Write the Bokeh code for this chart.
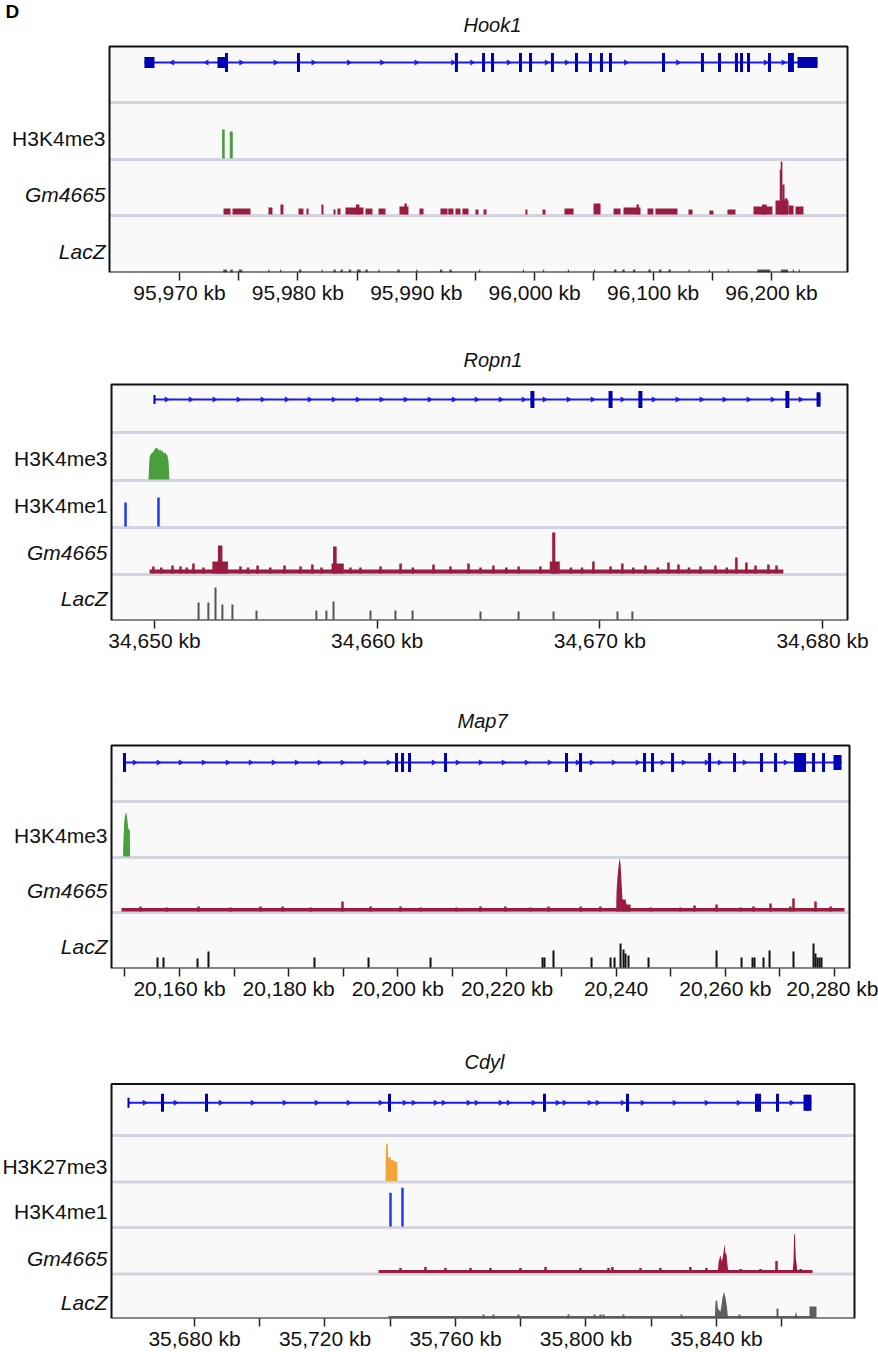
import math
from bokeh.plotting import figure
from bokeh.models import Range1d, FixedTicker
from bokeh.core.properties import value
from bokeh.layouts import column
from bokeh.embed import file_html
from bokeh.resources import INLINE

# ======================= DATA =======================
# ---------- Panel 1 : Hook1 ----------
hook1_view = (95964.09, 96026.42)
hook1_ticks = [95970, 95980, 95990, 96000, 96010, 96020]
hook1_tick_labels = ["95,970 kb", "95,980 kb", "95,990 kb", "96,000 kb", "96,100 kb", "96,200 kb"]
hook1_minor = [95975, 95985, 95995, 96005, 96015]
hook1_tracks = ["", "H3K4me3", "Gm4665", "LacZ"]
hook1_gene = (95967.04, 96023.89)
hook1_exons = [95973.97, 95980.05, 95993.39, 95995.68, 95996.44, 95998.80, 95999.65, 96001.50,
               96003.53, 96004.71, 96005.64, 96006.40, 96010.88, 96014.17, 96015.61, 96017.04,
               96017.47, 96018.06, 96019.83, 96021.52, 96021.77]
hook1_blocks = [(95967.04, 95967.89), (95973.21, 95974.05), (96022.20, 96023.89)]
hook1_arrows_fwd = [95975.2, 95978.1, 95981.3, 95984.3, 95987.1, 95990.0, 95993.1, 95994.7,
                    95997.8, 96001.0, 96002.7, 96007.7, 96012.1, 96019.5, 96021.0]
hook1_arrows_rev = [95969.4, 95972.3]
hook1_h3k4me3 = [(95973.60, 95973.82, 29), (95974.25, 95974.50, 27)]
hook1_gm4665 = [(95973.72, 95974.31, 6), (95974.48, 95976.00, 6), (95977.52, 95977.85, 7),
                (95978.53, 95978.78, 10), (95980.05, 95980.47, 6), (95980.73, 95980.90, 6),
                (95981.99, 95982.16, 10), (95983.01, 95983.18, 5), (95983.34, 95983.60, 6),
                (95984.02, 95985.54, 7), (95984.90, 95985.20, 10), (95985.71, 95986.30, 6),
                (95986.81, 95987.40, 6), (95988.58, 95989.34, 8), (95989.00, 95989.20, 11),
                (95990.27, 95990.61, 6), (95992.04, 95992.64, 6), (95992.70, 95993.14, 6),
                (95993.31, 95993.73, 6), (95993.90, 95994.41, 6), (95995.00, 95995.25, 5),
                (95995.68, 95995.93, 5), (95999.22, 95999.39, 5), (96000.66, 96000.91, 5),
                (96002.52, 96003.28, 6), (96004.97, 96005.56, 11), (96006.66, 96007.25, 6),
                (96007.50, 96008.94, 7), (96008.60, 96008.80, 10), (96009.53, 96010.03, 6),
                (96010.20, 96012.06, 6), (96012.99, 96013.33, 5), (96014.76, 96015.10, 4),
                (96016.28, 96016.96, 5), (96018.48, 96020.08, 8), (96019.20, 96019.60, 10),
                (96020.34, 96021.44, 14), (96020.70, 96020.82, 45), (96020.78, 96020.92, 53),
                (96020.92, 96021.10, 30), (96021.10, 96021.35, 16), (96021.44, 96021.86, 9),
                (96022.03, 96022.70, 8)]
hook1_lacz = [(95973.7, 95974.0, 3), (95974.3, 95974.5, 3), (95975.0, 95975.3, 3), (95977.5, 95977.6, 3),
              (95978.5, 95978.6, 3), (95980.1, 95980.3, 3), (95982.0, 95982.1, 3), (95983.0, 95983.2, 3),
              (95983.6, 95983.8, 3), (95984.3, 95984.5, 3), (95985.0, 95985.3, 3), (95985.7, 95985.9, 3),
              (95986.8, 95986.9, 3), (95988.4, 95988.6, 3), (95990.0, 95990.1, 3), (95992.0, 95992.2, 3),
              (95992.8, 95993.0, 3), (95995.3, 95995.4, 3), (95999.0, 95999.1, 3), (96000.7, 96000.8, 3),
              (96002.8, 96002.9, 3), (96005.0, 96005.1, 3), (96006.7, 96006.9, 3), (96007.4, 96007.6, 3),
              (96008.3, 96008.5, 3), (96009.6, 96009.8, 3), (96010.5, 96010.7, 3), (96011.3, 96011.5, 3),
              (96013.0, 96013.1, 3), (96014.7, 96014.8, 3), (96016.3, 96016.4, 3), (96018.8, 96019.9, 3),
              (96020.8, 96021.4, 3), (96021.8, 96021.9, 3), (96022.3, 96022.4, 3)]

# ---------- Panel 2 : Ropn1 ----------
ropn1_view = (34648.07, 34681.12)
ropn1_ticks = [34650, 34660, 34670, 34680]
ropn1_tick_labels = ["34,650 kb", "34,660 kb", "34,670 kb", "34,680 kb"]
ropn1_tracks = ["", "H3K4me3", "H3K4me1", "Gm4665", "LacZ"]
ropn1_gene = (34650.0, 34679.9)
ropn1_exons = [34666.97, 34670.48, 34671.82, 34678.42]
ropn1_blocks = [(34679.73, 34679.91)]
ropn1_caps = [34650.0]
ropn1_arrows_fwd = [34650.54, 34651.62, 34652.69, 34653.77, 34654.85, 34655.93, 34656.96, 34658.04,
                    34659.12, 34660.19, 34661.27, 34662.35, 34663.43, 34664.46, 34665.54, 34666.57,
                    34667.51, 34668.59, 34669.67, 34671.01, 34672.41, 34673.48, 34674.56, 34675.59,
                    34676.67, 34677.75, 34679.01]
ropn1_h3k4me3_x = [34649.73, 34649.78, 34649.82, 34649.87, 34649.91, 34649.96, 34650.00, 34650.04,
                   34650.09, 34650.13, 34650.18, 34650.22, 34650.27, 34650.31, 34650.36, 34650.40,
                   34650.45, 34650.49, 34650.54, 34650.58, 34650.63, 34650.67]
ropn1_h3k4me3_v = [0, 22, 25, 26, 27, 28, 30, 31, 32, 31, 30, 29, 30, 28, 29, 27, 26, 27, 25, 24, 18, 0]
ropn1_h3k4me1 = [(34648.70, 24), (34650.18, 29)]
ropn1_gm4665_base = (34649.78, 34678.24, 4)
ropn1_gm4665_peaks = [(34652.60, 34653.30, 12), (34652.85, 34653.05, 28), (34657.95, 34658.50, 10),
                      (34658.02, 34658.18, 27), (34667.75, 34668.20, 12), (34667.86, 34668.00, 41)]
ropn1_gm4665_bumps = [(34649.95, 7), (34650.30, 6), (34650.81, 8), (34651.17, 7), (34651.45, 6),
                      (34651.75, 10), (34652.20, 6), (34653.86, 7), (34654.20, 6), (34654.63, 8),
                      (34655.20, 6), (34655.84, 8), (34656.56, 7), (34657.09, 9), (34657.50, 6),
                      (34658.80, 6), (34659.25, 6), (34660.15, 7), (34661.05, 10), (34661.60, 6),
                      (34662.53, 9), (34663.29, 7), (34664.10, 10), (34664.64, 6), (34665.22, 8),
                      (34665.80, 6), (34666.35, 7), (34667.33, 7), (34668.70, 6), (34669.20, 6),
                      (34669.71, 12), (34670.48, 7), (34671.01, 10), (34671.50, 6), (34672.05, 8),
                      (34672.60, 6), (34673.08, 11), (34673.53, 9), (34674.00, 6), (34674.52, 7),
                      (34675.19, 8), (34675.70, 6), (34676.13, 16), (34676.58, 11), (34676.99, 8),
                      (34677.57, 9), (34677.93, 8)]
ropn1_lacz = [(34651.98, 17), (34652.42, 17), (34652.74, 32), (34653.05, 15), (34653.50, 15),
              (34654.58, 9), (34657.27, 9), (34657.72, 9), (34658.04, 18), (34659.70, 9),
              (34660.82, 9), (34661.59, 9), (34664.64, 8), (34666.35, 8), (34667.92, 8),
              (34670.79, 8), (34671.46, 8)]

# ---------- Panel 3 : Map7 ----------
map7_view = (20147.54, 20282.75)
map7_ticks = [20160, 20180, 20200, 20220, 20240, 20260, 20280]
map7_tick_labels = ["20,160 kb", "20,180 kb", "20,200 kb", "20,220 kb", "20,240", "20,260 kb", "20,280 kb"]
map7_minor = [20150, 20170, 20190, 20210, 20230, 20250, 20270]
map7_tracks = ["", "H3K4me3", "Gm4665", "LacZ"]
map7_gene = (20149.92, 20281.29)
map7_exons = [20149.92, 20199.76, 20200.86, 20202.14, 20208.74, 20230.90, 20233.47, 20245.20,
              20246.66, 20250.33, 20257.11, 20261.69, 20266.63, 20269.20, 20272.86, 20273.23,
              20273.59, 20273.96, 20274.51, 20276.16, 20277.99]
map7_blocks = [(20279.82, 20281.29)]
map7_arrows_fwd = [20151.76, 20156.15, 20160.18, 20164.40, 20168.79, 20173.01, 20177.22, 20181.44,
                   20185.65, 20189.86, 20194.08, 20198.29, 20206.54, 20210.93, 20215.15, 20219.36,
                   20223.58, 20227.79, 20232.92, 20235.49, 20239.52, 20243.91, 20248.49, 20252.34,
                   20256.56, 20258.94, 20263.52, 20271.03]
map7_h3k4me3_x = [20149.65, 20149.69, 20149.87, 20150.05, 20150.24, 20150.42, 20150.60, 20150.79,
                  20150.90, 20150.95]
map7_h3k4me3_v = [0, 10, 35, 42, 44, 38, 28, 27, 26, 0]
map7_gm4665_base = (20149.37, 20281.84, 3.5)
map7_gm4665_peak_x = [20240.00, 20240.07, 20240.25, 20240.43, 20240.62, 20240.80, 20240.98,
                      20241.16, 20241.71, 20241.90, 20242.63, 20242.70]
map7_gm4665_peak_v = [0, 20, 35, 45, 53, 48, 30, 12, 12, 7, 7, 0]
map7_gm4665_bumps = [(20152.85, 5), (20157.62, 4), (20163.48, 5), (20169.34, 4), (20174.84, 5),
                     (20178.87, 5), (20184.00, 4), (20189.86, 10), (20195.00, 5), (20200.50, 5),
                     (20204.20, 4), (20210.75, 4), (20215.15, 5), (20219.70, 5), (20224.30, 4),
                     (20227.61, 5), (20233.50, 5), (20237.10, 5), (20246.30, 4), (20251.80, 4),
                     (20254.36, 6), (20258.39, 7), (20262.80, 4), (20265.17, 5), (20268.28, 8),
                     (20271.90, 5), (20272.49, 13), (20276.52, 10), (20279.30, 5)]
map7_lacz = [(20155.97, 10), (20157.07, 10), (20163.30, 9), (20165.31, 16), (20184.73, 10),
             (20194.63, 10), (20205.99, 10), (20226.51, 10), (20226.87, 10), (20228.52, 17),
             (20235.49, 10), (20238.97, 10), (20239.70, 10), (20240.80, 24), (20241.35, 18),
             (20241.71, 14), (20242.26, 12), (20245.93, 10), (20258.39, 17), (20262.97, 10),
             (20264.98, 10), (20265.35, 10), (20267.00, 10), (20268.10, 17), (20272.49, 16),
             (20276.16, 24), (20276.52, 14), (20276.89, 10), (20277.26, 10), (20277.62, 10)]

# ---------- Panel 4 : Cdyl ----------
cdyl_view = (35654.56, 35882.30)
cdyl_ticks = [35680, 35720, 35760, 35800, 35840]
cdyl_tick_labels = ["35,680 kb", "35,720 kb", "35,760 kb", "35,800 kb", "35,840 kb"]
cdyl_minor = [35700, 35740, 35780, 35820, 35860]
cdyl_tracks = ["", "H3K27me3", "H3K4me1", "Gm4665", "LacZ"]
cdyl_gene = (35659.77, 35869.12)
cdyl_exons = [35670.19, 35683.68, 35739.77, 35787.28, 35812.72, 35852.26, 35853.18, 35858.70]
cdyl_blocks = [(35866.67, 35869.12)]
cdyl_caps = [35659.77]
cdyl_arrows_fwd = [35664.67, 35674.18, 35687.97, 35697.78, 35707.59, 35717.39, 35727.20, 35737.01,
                   35744.37, 35747.13, 35753.87, 35756.32, 35763.98, 35766.44, 35773.79, 35776.25,
                   35783.91, 35791.26, 35793.41, 35801.07, 35803.52, 35811.19, 35817.32, 35827.13,
                   35836.93, 35846.74, 35862.99]
cdyl_h3k27me3_x = [35738.54, 35738.70, 35739.25, 35739.34, 35740.08, 35740.23, 35741.15, 35741.30,
                   35742.13, 35742.22]
cdyl_h3k27me3_v = [0, 37, 37, 24, 24, 21, 21, 19, 19, 0]
cdyl_h3k4me1 = [(35740.08, 34), (35743.75, 39)]
cdyl_gm4665_base = (35736.40, 35869.43, 3)
cdyl_gm4665_peak1_x = [35840.40, 35840.61, 35841.00, 35841.23, 35841.55, 35841.84, 35842.20,
                       35842.45, 35842.75, 35843.06, 35843.37, 35843.68]
cdyl_gm4665_peak1_v = [0, 10, 16, 18, 12, 14, 22, 29, 20, 19, 8, 0]
cdyl_gm4665_peak2_x = [35863.30, 35863.60, 35863.80, 35864.05, 35864.30, 35864.60, 35864.80]
cdyl_gm4665_peak2_v = [0, 12, 39, 39, 15, 8, 0]
cdyl_gm4665_bumps = [(35743.14, 5), (35750.80, 6), (35756.90, 5), (35764.60, 5), (35770.70, 5),
                     (35779.90, 5), (35787.60, 6), (35798.30, 5), (35806.90, 5), (35808.10, 6),
                     (35816.70, 5), (35822.80, 5), (35832.00, 6), (35836.90, 5), (35847.40, 4),
                     (35853.50, 4), (35858.39, 12), (35865.80, 4)]
cdyl_lacz_base = (35739.46, 35869.43, 1.5)
cdyl_lacz_bumps = [(35768.58, 3), (35771.65, 3), (35779.31, 3), (35794.64, 3), (35802.61, 3),
                   (35804.44, 3), (35805.36, 3), (35811.49, 3), (35829.27, 3), (35847.05, 3),
                   (35858.70, 9)]
cdyl_lacz_peak1_x = [35839.50, 35839.69, 35840.15, 35840.40, 35840.61, 35841.23, 35841.60,
                     35841.84, 35842.30, 35842.76, 35843.22, 35843.52]
cdyl_lacz_peak1_v = [0, 16, 18, 10, 8, 6, 14, 20, 26, 20, 10, 0]
cdyl_lacz_peak2_x = [35864.00, 35864.37, 35864.80]
cdyl_lacz_peak2_v = [0, 6, 0]
cdyl_lacz_blocks = [(35868.51, 35870.65, 11)]

# ======================= STYLE =======================
FONT = "Liberation Sans"
W = 878
BOX_BG = "#f9f9f9"
SEP = "#d4d4de"
GENE_LINE = "#1c1ce8"
EXON = "#0000b0"
GREEN = "#4b9e3e"
CRIMSON = "#9a1c40"
BLUE1 = "#1f3cf0"
ORANGE = "#f2a33a"
TXT_SHIFT = 8   # baseline correction for text glyphs


def make_panel(view, box_px, ticks, labels, minor, height, bottom, edges):
    """Frame spans the full width; the track box is drawn inside it."""
    left, right = box_px
    ppx = (right - left) / (view[1] - view[0])
    xr = (view[0] - left / ppx, view[0] + (W - left) / ppx)
    p = figure(width=W, height=height, x_range=Range1d(*xr), y_range=Range1d(0, height - bottom),
               output_backend="svg", toolbar_location=None,
               min_border_left=0, min_border_right=0, min_border_top=0, min_border_bottom=bottom)
    p.yaxis.visible = False
    p.xgrid.visible = False
    p.ygrid.visible = False
    p.background_fill_color = "white"
    p.border_fill_color = "white"
    p.outline_line_color = None
    ax = p.xaxis[0]
    ax.ticker = FixedTicker(ticks=ticks, minor_ticks=minor)
    ax.major_label_overrides = dict(zip(ticks, labels))
    ax.axis_line_color = None
    ax.major_tick_in = 0
    ax.major_tick_out = 8
    ax.minor_tick_in = 0
    ax.minor_tick_out = 8
    ax.major_tick_line_color = "#222222"
    ax.minor_tick_line_color = "#222222"
    ax.major_tick_line_width = 1.5
    ax.minor_tick_line_width = 1.5
    ax.major_label_text_font = FONT
    ax.major_label_text_font_size = "21px"
    ax.major_label_text_color = "#111111"
    ax.major_label_standoff = 0
    p.quad(left=[view[0]], right=[view[1]], bottom=[0], top=[edges[-1]],
           fill_color=BOX_BG, line_color=None)
    ys = edges[1:-1]
    p.segment(x0=[view[0]] * len(ys), y0=ys, x1=[view[1]] * len(ys), y1=ys,
              line_color=SEP, line_width=3)
    p._ppx = ppx
    p._view = view
    p._edges = edges
    return p


def finish_box(p):
    v, e = p._view, p._edges
    p.quad(left=[v[0]], right=[v[1]], bottom=[0], top=[e[-1]], fill_color=None,
           line_color="#111111", line_width=2)


def track_labels(p, names, off):
    e, v = p._edges, p._view
    n = len(names)
    for style in ("normal", "italic"):
        xs, ys, ts = [], [], []
        for i, name in enumerate(names):
            if not name:
                continue
            it = name in ("Gm4665", "LacZ")
            if (style == "italic") != it:
                continue
            xs.append(v[0] - 4 / p._ppx)
            ys.append(e[n - 1 - i] + off + TXT_SHIFT)
            ts.append(name)
        if ts:
            p.text(x=xs, y=ys, text=ts, text_align="right", text_baseline="alphabetic",
                   text_font=value(FONT), text_font_size="21px", text_font_style=style,
                   text_color="#111111")


def title(p, text, x_px, box_left_px, off):
    v, e = p._view, p._edges
    p.text(x=[v[0] + (x_px - box_left_px) / p._ppx], y=[e[-1] + off + TXT_SHIFT], text=[text],
           text_align="left", text_baseline="alphabetic", text_font=value(FONT),
           text_font_size="20px", text_font_style="italic", text_color="#111111")


def gene(p, span, gy, exons, blocks, fwd, rev=(), caps=(), tall=19, blk=11, cap_h=9, ew=3):
    p.segment(x0=[span[0]], y0=[gy], x1=[span[1]], y1=[gy], line_color=GENE_LINE, line_width=2)
    if fwd:
        p.scatter(x=list(fwd), y=[gy] * len(fwd), marker="triangle", size=6, angle=-math.pi / 2,
                  fill_color=GENE_LINE, line_color=None)
    if rev:
        p.scatter(x=list(rev), y=[gy] * len(rev), marker="triangle", size=6, angle=math.pi / 2,
                  fill_color=GENE_LINE, line_color=None)
    p.rect(x=exons, y=[gy] * len(exons), width=ew, height=tall, width_units="screen",
           height_units="screen", fill_color=EXON, line_color=None)
    if blocks:
        cx = [(a + b) / 2 for a, b in blocks]
        p.rect(x=cx, y=[gy] * len(blocks), width=[b - a for a, b in blocks], height=blk,
               height_units="screen", fill_color=EXON, line_color=None)
        p.rect(x=cx, y=[gy] * len(blocks), width=3, height=blk,
               width_units="screen", height_units="screen", fill_color=EXON, line_color=None)
    if caps:
        p.rect(x=list(caps), y=[gy] * len(caps), width=2, height=cap_h, width_units="screen",
               height_units="screen", fill_color=EXON, line_color=None)


def blocks(p, data, bottom, color):
    p.quad(left=[d[0] for d in data], right=[d[1] for d in data], bottom=bottom,
           top=[bottom + d[2] for d in data], fill_color=color, line_color=None)


def spikes(p, data, bottom, color, w=2):
    p.segment(x0=[d[0] for d in data], y0=[bottom] * len(data), x1=[d[0] for d in data],
              y1=[bottom + d[1] for d in data], line_color=color, line_width=w)


def area(p, xs, vs, bottom, color):
    p.varea(x=xs, y1=[bottom] * len(xs), y2=[bottom + v for v in vs], fill_color=color)


# ======================= PANEL 1 =======================
e1 = [0, 57, 113, 170, 226]
p1 = make_panel(hook1_view, (109, 847), hook1_ticks, hook1_tick_labels, hook1_minor, 330, 58, e1)
gene(p1, hook1_gene, 210, hook1_exons, hook1_blocks, hook1_arrows_fwd, hook1_arrows_rev, tall=19, blk=11)
blocks(p1, hook1_h3k4me3, e1[2] + 1, GREEN)
blocks(p1, hook1_gm4665, e1[1] + 1, CRIMSON)
blocks(p1, hook1_lacz, e1[0], "#555555")
finish_box(p1)
track_labels(p1, hook1_tracks, 13)
title(p1, "Hook1", 463, 109, 14)
p1.text(x=[hook1_view[0] + (5 - 109) / p1._ppx], y=[e1[-1] + 27 + TXT_SHIFT], text=["D"],
        text_align="left", text_baseline="alphabetic", text_font=value(FONT),
        text_font_size="19px", text_font_style="bold", text_color="#000000")

# ======================= PANEL 2 =======================
e2 = [0, 46, 93, 140, 188, 236]
p2 = make_panel(ropn1_view, (111, 847), ropn1_ticks, ropn1_tick_labels, [], 358, 68, e2)
gene(p2, ropn1_gene, 221, ropn1_exons, ropn1_blocks, ropn1_arrows_fwd, caps=ropn1_caps,
     tall=17, blk=14, cap_h=9, ew=4)
area(p2, ropn1_h3k4me3_x, ropn1_h3k4me3_v, e2[3] + 1, GREEN)
spikes(p2, ropn1_h3k4me1, e2[2] + 1, BLUE1, w=2.5)
blocks(p2, [ropn1_gm4665_base], e2[1] + 1, CRIMSON)
blocks(p2, ropn1_gm4665_peaks, e2[1] + 1, CRIMSON)
spikes(p2, ropn1_gm4665_bumps, e2[1] + 1, CRIMSON, w=2.5)
spikes(p2, ropn1_lacz, e2[0] + 1, "#555555", w=2)
finish_box(p2)
track_labels(p2, ropn1_tracks, 14)
title(p2, "Ropn1", 463, 111, 17)

# ======================= PANEL 3 =======================
e3 = [0, 56, 111, 167, 223]
p3 = make_panel(map7_view, (111, 849), map7_ticks, map7_tick_labels, map7_minor, 340, 60, e3)
gene(p3, map7_gene, 206, map7_exons, map7_blocks, map7_arrows_fwd, tall=19, blk=15)
area(p3, map7_h3k4me3_x, map7_h3k4me3_v, e3[2] + 1, GREEN)
blocks(p3, [map7_gm4665_base], e3[1] + 1, CRIMSON)
area(p3, map7_gm4665_peak_x, map7_gm4665_peak_v, e3[1] + 1, CRIMSON)
spikes(p3, map7_gm4665_bumps, e3[1] + 1, CRIMSON, w=2.5)
spikes(p3, map7_lacz, e3[0] + 1, "#111111", w=2)
finish_box(p3)
track_labels(p3, map7_tracks, 14)
title(p3, "Map7", 457, 111, 17)

# ======================= PANEL 4 =======================
e4 = [0, 45, 92, 138, 185, 237]
p4 = make_panel(cdyl_view, (111, 854), cdyl_ticks, cdyl_tick_labels, cdyl_minor, 324, 31, e4)
gene(p4, cdyl_gene, 218, cdyl_exons, cdyl_blocks, cdyl_arrows_fwd, caps=cdyl_caps,
     tall=18, blk=16, cap_h=10, ew=3)
area(p4, cdyl_h3k27me3_x, cdyl_h3k27me3_v, e4[3] + 1, ORANGE)
spikes(p4, cdyl_h3k4me1, e4[2] + 1, BLUE1, w=2.5)
blocks(p4, [cdyl_gm4665_base], e4[1] + 1, CRIMSON)
area(p4, cdyl_gm4665_peak1_x, cdyl_gm4665_peak1_v, e4[1] + 1, CRIMSON)
area(p4, cdyl_gm4665_peak2_x, cdyl_gm4665_peak2_v, e4[1] + 1, CRIMSON)
spikes(p4, cdyl_gm4665_bumps, e4[1] + 1, CRIMSON, w=2.5)
LACZ4 = "#5e5e5e"
blocks(p4, [cdyl_lacz_base], e4[0] + 1, LACZ4)
spikes(p4, cdyl_lacz_bumps, e4[0] + 1, LACZ4, w=2)
area(p4, cdyl_lacz_peak1_x, cdyl_lacz_peak1_v, e4[0] + 1, LACZ4)
area(p4, cdyl_lacz_peak2_x, cdyl_lacz_peak2_v, e4[0] + 1, LACZ4)
blocks(p4, cdyl_lacz_blocks, e4[0] + 1, LACZ4)
finish_box(p4)
track_labels(p4, cdyl_tracks, 8)
title(p4, "Cdyl", 464, 111, 14)

layout = column(p1, p2, p3, p4, spacing=0)
open("out.html", "w").write(file_html(layout, INLINE))
